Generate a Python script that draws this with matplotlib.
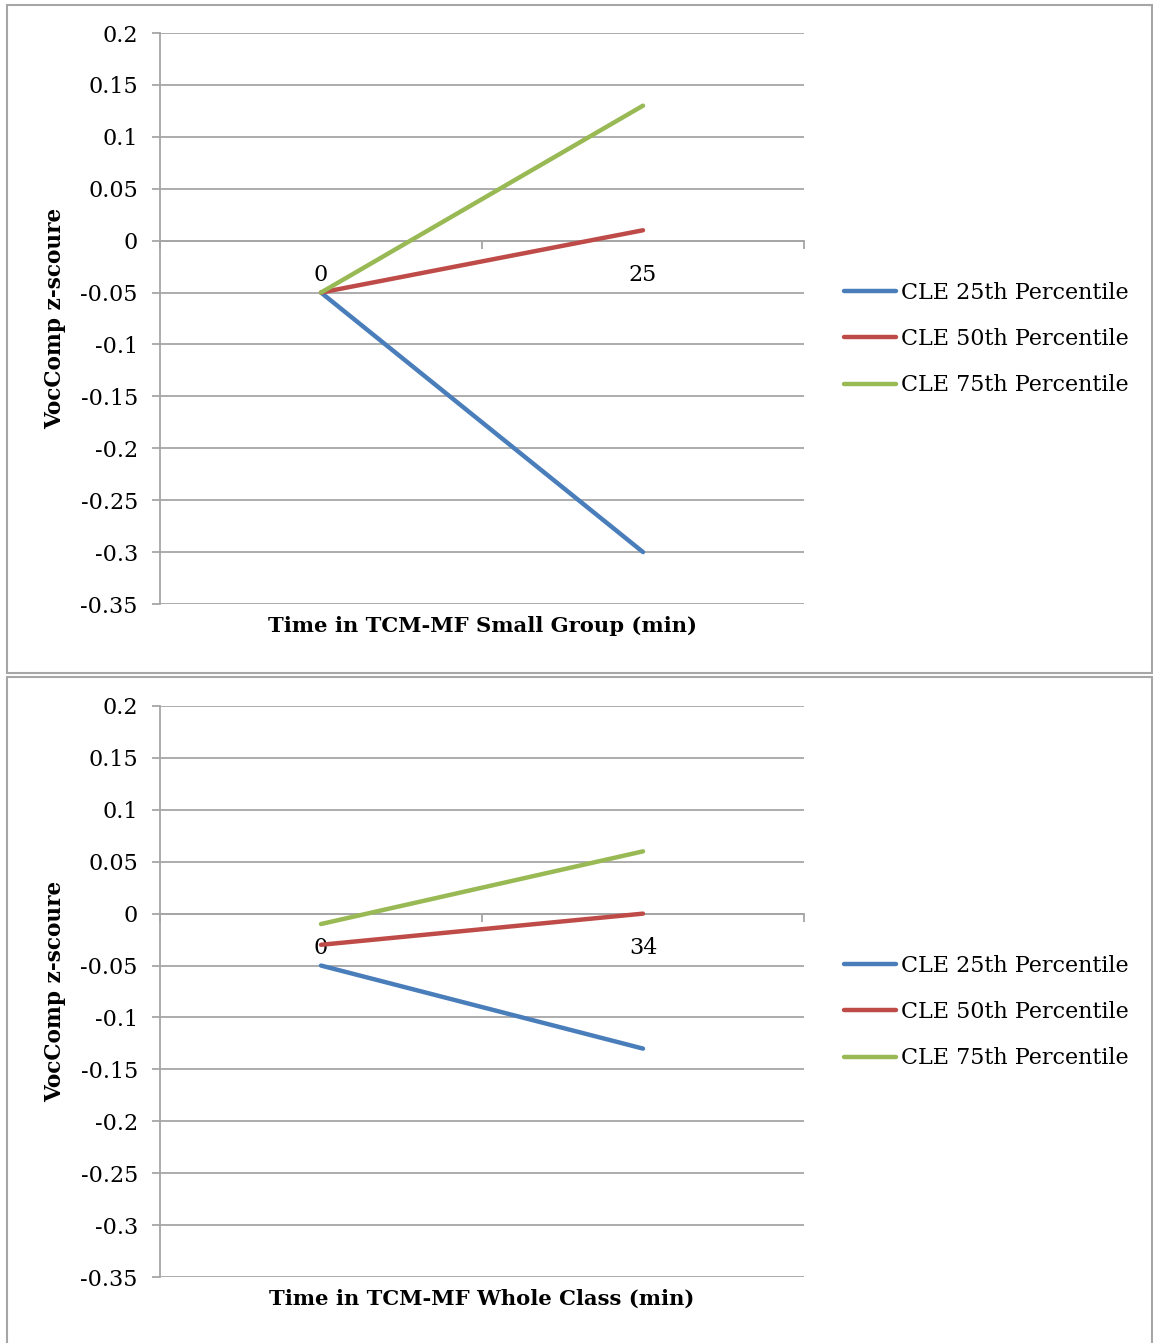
import matplotlib
matplotlib.use("Agg")
import matplotlib.pyplot as plt
from matplotlib.patches import Rectangle

# data
series = ["CLE 25th Percentile", "CLE 50th Percentile", "CLE 75th Percentile"]
colors = ["#4a7ebb", "#be4b48", "#98b954"]

small_cats = ["0", "25"]
small_vals = [[-0.05, -0.30],
              [-0.05, 0.01],
              [-0.05, 0.13]]

whole_cats = ["0", "34"]
whole_vals = [[-0.05, -0.13],
              [-0.03, 0.00],
              [-0.01, 0.06]]

yticks = [0.2, 0.15, 0.1, 0.05, 0, -0.05, -0.1, -0.15, -0.2, -0.25, -0.3, -0.35]
ytick_labels = ["0.2", "0.15", "0.1", "0.05", "0", "-0.05", "-0.1", "-0.15",
                "-0.2", "-0.25", "-0.3", "-0.35"]

W, H = 1153, 1343
grey = "#a6a6a6"
plt.rcParams["font.family"] = ["DejaVu Serif"]

fig = plt.figure(figsize=(W / 100, H / 100), dpi=100)

# panel borders
fig.patches.append(Rectangle((7 / W, 1 - 673 / H), 1145 / W, 668 / H,
                             transform=fig.transFigure, fill=False,
                             edgecolor=grey, lw=1.5))
fig.patches.append(Rectangle((7 / W, -0.01), 1145 / W, 1 - 677 / H + 0.01,
                             transform=fig.transFigure, fill=False,
                             edgecolor=grey, lw=1.5))


def panel(top_px, cats, vals, xlabel):
    ax = fig.add_axes([160 / W, 1 - (top_px + 571) / H, 644 / W, 571 / H])
    xs = [i + 0.5 for i in range(len(cats))]
    for name, col, v in zip(series, colors, vals):
        ax.plot(xs, v, color=col, lw=3.2, label=name, solid_capstyle="round",
                zorder=3)

    ax.set_xlim(0, len(cats))
    ax.set_ylim(-0.35, 0.2)
    ax.set_yticks(yticks)
    ax.set_yticklabels(ytick_labels, fontsize=16)
    ax.yaxis.grid(True, color=grey, lw=1.3)
    ax.set_axisbelow(True)
    ax.tick_params(axis="y", length=6, width=1.3, color=grey, pad=10)

    for s in ["top", "right"]:
        ax.spines[s].set_visible(False)
    ax.spines["left"].set_color(grey)
    ax.spines["left"].set_linewidth(1.3)
    ax.spines["bottom"].set_position(("data", 0))
    ax.spines["bottom"].set_color(grey)
    ax.spines["bottom"].set_linewidth(1.3)

    ax.set_xticks(range(len(cats) + 1))
    ax.set_xticklabels([])
    ax.set_xticks(xs, minor=True)
    ax.set_xticklabels(cats, minor=True, fontsize=16)
    ax.tick_params(axis="x", which="major", length=6, width=1.3, color=grey,
                   direction="out")
    ax.tick_params(axis="x", which="minor", length=0, pad=17)

    ax.text(0.5, -0.038, xlabel, transform=ax.transAxes, ha="center",
            va="center", fontsize=15.2, fontweight="bold")
    ax.set_ylabel("VocComp z-scoure", fontsize=15.6, fontweight="bold")
    ax.yaxis.set_label_coords(-0.146, 0.5)

    mid = top_px + 571 - (604 - 339)
    ax.legend(loc="center left", bbox_to_anchor=(844 / W, 1 - mid / H),
              bbox_transform=fig.transFigure, frameon=False, fontsize=16,
              handlelength=2.35, handletextpad=0.22, labelspacing=1.1,
              borderpad=0, borderaxespad=0)
    return ax


panel(33, small_cats, small_vals, "Time in TCM-MF Small Group (min)")
panel(706, whole_cats, whole_vals, "Time in TCM-MF Whole Class (min)")

fig.savefig("out.png", dpi=100)
